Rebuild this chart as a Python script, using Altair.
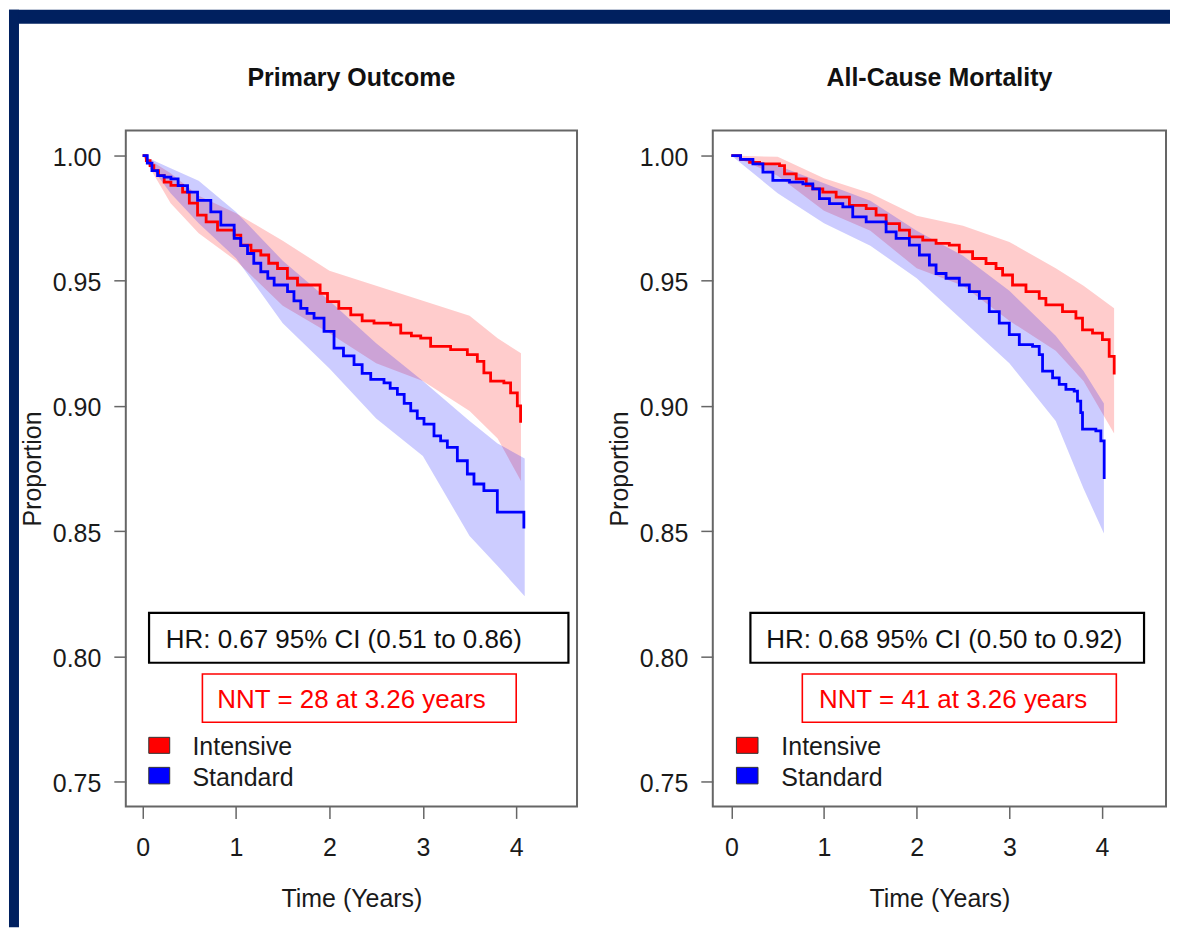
import altair as alt
import pandas as pd

# ---------------- data ----------------
X_TICKS = [0, 1, 2, 3, 4]
Y_TICKS = [0.75, 0.80, 0.85, 0.90, 0.95, 1.00]
SERIES = ["Intensive", "Standard"]

# Panel 1: Primary Outcome
P1_TITLE = "Primary Outcome"
P1_INT_T = [0, 0.04, 0.08, 0.12, 0.17, 0.231, 0.303, 0.428, 0.50, 0.588, 0.68, 0.802, 0.980, 1.051, 1.16,
            1.265, 1.35, 1.444, 1.55, 1.658, 1.90, 1.979, 2.10, 2.228, 2.35, 2.477, 2.656, 2.763, 2.877,
            2.977, 3.083, 3.297, 3.476, 3.583, 3.653, 3.725, 3.867, 3.939, 4.011, 4.046]
P1_INT_S = [1.0, 0.998, 0.996, 0.994, 0.992, 0.9894, 0.9881, 0.9854, 0.981, 0.9762, 0.9735, 0.9702, 0.9682,
            0.9642, 0.962, 0.9603, 0.957, 0.9549, 0.951, 0.9483, 0.945, 0.9417, 0.939, 0.9364, 0.934, 0.9331,
            0.9324, 0.9291, 0.928, 0.9271, 0.9238, 0.9225, 0.9205, 0.9178, 0.9132, 0.9099, 0.9092, 0.9052,
            0.9000, 0.8933]
P1_STD_T = [0, 0.05, 0.10, 0.16, 0.231, 0.303, 0.38, 0.481, 0.588, 0.730, 0.837, 0.980, 1.05, 1.123, 1.19,
            1.265, 1.34, 1.408, 1.551, 1.62, 1.693, 1.76, 1.835, 1.942, 2.049, 2.15, 2.263, 2.35, 2.442,
            2.584, 2.65, 2.727, 2.80, 2.870, 2.94, 3.012, 3.119, 3.19, 3.262, 3.369, 3.476, 3.547, 3.653,
            3.797, 4.081]
P1_STD_S = [1.0, 0.997, 0.994, 0.992, 0.9914, 0.9907, 0.988, 0.9854, 0.9821, 0.9775, 0.9722, 0.9669, 0.964,
            0.9609, 0.957, 0.9536, 0.951, 0.9483, 0.9457, 0.942, 0.9390, 0.937, 0.9351, 0.9298, 0.9231,
            0.920, 0.9165, 0.913, 0.9106, 0.9092, 0.907, 0.9046, 0.901, 0.8980, 0.895, 0.8927, 0.8880,
            0.886, 0.8834, 0.8781, 0.8728, 0.8688, 0.8662, 0.8576, 0.8510]
P1_INT_BAND_T = [0, 0.3, 0.6, 1.0, 1.5, 2.0, 2.5, 3.0, 3.5, 3.8, 4.05]
P1_INT_LO = [1.0, 0.981, 0.969, 0.958, 0.940, 0.929, 0.917, 0.910, 0.898, 0.887, 0.870]
P1_INT_HI = [1.0, 0.993, 0.984, 0.977, 0.966, 0.954, 0.948, 0.942, 0.936, 0.927, 0.921]
P1_STD_BAND_T = [0, 0.3, 0.6, 1.0, 1.5, 2.0, 2.5, 3.0, 3.5, 3.8, 4.09]
P1_STD_LO = [1.0, 0.985, 0.973, 0.959, 0.933, 0.915, 0.895, 0.880, 0.848, 0.836, 0.824]
P1_STD_HI = [1.0, 0.995, 0.990, 0.9775, 0.958, 0.942, 0.925, 0.910, 0.894, 0.885, 0.879]
P1_HR = "HR: 0.67 95% CI (0.51 to 0.86)"
P1_NNT = "NNT = 28 at 3.26 years"

# Panel 2: All-Cause Mortality
P2_TITLE = "All-Cause Mortality"
P2_INT_T = [0, 0.1, 0.197, 0.305, 0.520, 0.574, 0.700, 0.808, 0.879, 0.987, 1.131, 1.274, 1.455, 1.562,
            1.670, 1.814, 1.922, 2.065, 2.209, 2.352, 2.460, 2.603, 2.748, 2.856, 2.927, 3.034, 3.179,
            3.322, 3.394, 3.573, 3.718, 3.789, 3.897, 4.004, 4.077, 4.131]
P2_INT_S = [1.0, 0.9985, 0.9973, 0.9967, 0.9960, 0.9927, 0.9907, 0.9881, 0.9867, 0.9854, 0.9834, 0.9801,
            0.9788, 0.9762, 0.9728, 0.9702, 0.9675, 0.9662, 0.9649, 0.9642, 0.9616, 0.9589, 0.9569, 0.9549,
            0.9523, 0.9483, 0.9457, 0.9430, 0.9404, 0.9377, 0.9351, 0.9304, 0.9291, 0.9265, 0.9198, 0.9126]
P2_STD_T = [0, 0.1, 0.233, 0.341, 0.448, 0.628, 0.772, 0.879, 0.951, 1.059, 1.203, 1.310, 1.455, 1.670,
            1.778, 1.921, 2.029, 2.137, 2.209, 2.317, 2.460, 2.568, 2.676, 2.783, 2.891, 2.999, 3.107,
            3.250, 3.322, 3.358, 3.466, 3.538, 3.610, 3.699, 3.735, 3.770, 3.789, 3.933, 3.987, 4.023]
P2_STD_S = [1.0, 0.9985, 0.9967, 0.9934, 0.9901, 0.9894, 0.9887, 0.9867, 0.9828, 0.9808, 0.9795, 0.9755,
            0.9735, 0.9695, 0.9669, 0.9642, 0.9603, 0.9563, 0.9529, 0.9510, 0.9483, 0.9457, 0.9430, 0.9377,
            0.9331, 0.9285, 0.9245, 0.9238, 0.9205, 0.9139, 0.9112, 0.9086, 0.9066, 0.9059, 0.9019, 0.8973,
            0.8907, 0.8900, 0.8860, 0.8708]
P2_INT_BAND_T = [0, 0.5, 1.0, 1.5, 2.0, 2.5, 3.0, 3.5, 3.8, 4.13]
P2_INT_LO = [1.0, 0.992, 0.978, 0.970, 0.955, 0.948, 0.934, 0.922, 0.910, 0.889]
P2_INT_HI = [1.0, 0.9995, 0.991, 0.985, 0.976, 0.972, 0.9655, 0.955, 0.948, 0.939]
P2_STD_BAND_T = [0, 0.5, 1.0, 1.5, 2.0, 2.5, 3.0, 3.5, 3.8, 4.02]
P2_STD_LO = [1.0, 0.985, 0.973, 0.964, 0.951, 0.934, 0.917, 0.894, 0.867, 0.849]
P2_STD_HI = [1.0, 0.996, 0.989, 0.982, 0.970, 0.960, 0.946, 0.928, 0.914, 0.901]
P2_HR = "HR: 0.68 95% CI (0.50 to 0.92)"
P2_NNT = "NNT = 41 at 3.26 years"

# ---------------- styling / layout ----------------
FONT = "Liberation Sans"
RED = "#ff0000"
BLUE = "#0000ff"
NAVY = "#00205f"
TXT = "#1a1a1a"
Y_DOMAIN = [0.74, 1.01]
PLOT_H = 677


def const_df():
    return pd.DataFrame({"k": [0]})


def panel(title, xdom, width, int_t, int_s, std_t, std_s,
          ib_t, ib_lo, ib_hi, sb_t, sb_lo, sb_hi, hr, nnt, ann, frames):
    xs = alt.Scale(domain=xdom, nice=False, zero=False)
    ys = alt.Scale(domain=Y_DOMAIN, nice=False, zero=False)
    xax = alt.Axis(values=X_TICKS, title="Time (Years)", grid=False, domain=False,
                   tickSize=12, tickColor="#666666", tickWidth=1.5,
                   labelFontSize=25, labelFont=FONT, labelColor=TXT, labelPadding=17,
                   labelBaseline="top", labelFlush=False,
                   titleFontSize=25, titleFont=FONT, titleFontWeight="normal", titleColor=TXT,
                   titleBaseline="alphabetic", titleY=100, titleX=width / 2, titleAlign="center")
    yax = alt.Axis(values=Y_TICKS, format=".2f", title="Proportion", grid=False, domain=False,
                   tickSize=12, tickColor="#666666", tickWidth=1.5,
                   labelFontSize=25, labelFont=FONT, labelColor=TXT, labelPadding=13,
                   labelBaseline="middle", labelOffset=2, labelFlush=False,
                   titleFontSize=25, titleFont=FONT, titleFontWeight="normal", titleColor=TXT,
                   titleAngle=270, titleAlign="center", titleBaseline="alphabetic",
                   titleX=-85, titleY=PLOT_H / 2)

    def X(f):
        return alt.X(f, type="quantitative", scale=xs, axis=xax)

    def Y(f):
        return alt.Y(f, type="quantitative", scale=ys, axis=yax)

    layers = []
    # navy frame strips (decoration)
    for (a, b, c, d) in frames:
        layers.append(alt.Chart(const_df()).mark_rect(color=NAVY).encode(
            x=alt.value(a), x2=alt.value(b), y=alt.value(c), y2=alt.value(d)))

    # confidence bands
    for bt, lo, hi, col in [(ib_t, ib_lo, ib_hi, RED), (sb_t, sb_lo, sb_hi, BLUE)]:
        df = pd.DataFrame({"t": bt, "lo": lo, "hi": hi})
        layers.append(alt.Chart(df).mark_area(color=col, opacity=0.2).encode(
            x=X("t"), y=Y("lo"), y2="hi"))
    # KM curves
    for tt, ss, col in [(int_t, int_s, RED), (std_t, std_s, BLUE)]:
        df = pd.DataFrame({"t": tt, "s": ss})
        layers.append(alt.Chart(df).mark_line(color=col, strokeWidth=2.8, interpolate="step-after").encode(
            x=X("t"), y=Y("s")))

    # panel title
    tdf = pd.DataFrame({"x": [(xdom[0] + xdom[1]) / 2], "y": [ann["title_y"]], "txt": [title]})
    layers.append(alt.Chart(tdf).mark_text(font=FONT, fontSize=25, fontWeight="bold", color="#111111",
                                           align="center", baseline="alphabetic").encode(
        x=X("x"), y=Y("y"), text="txt:N"))

    # HR box
    hb = pd.DataFrame({"x": [ann["hr_x"][0]], "x2": [ann["hr_x"][1]],
                       "y": [ann["hr_y"][0]], "y2": [ann["hr_y"][1]]})
    layers.append(alt.Chart(hb).mark_rect(fill="white", stroke="#000000", strokeWidth=2.2).encode(
        x=X("x"), x2="x2", y=Y("y"), y2="y2"))
    ht = pd.DataFrame({"x": [ann["hr_tx"]], "y": [ann["hr_ty"]], "txt": [hr]})
    layers.append(alt.Chart(ht).mark_text(font=FONT, fontSize=26, color="#111111", align="left",
                                          baseline="middle").encode(x=X("x"), y=Y("y"), text="txt:N"))
    # NNT box
    nb = pd.DataFrame({"x": [ann["nnt_x"][0]], "x2": [ann["nnt_x"][1]],
                       "y": [ann["nnt_y"][0]], "y2": [ann["nnt_y"][1]]})
    layers.append(alt.Chart(nb).mark_rect(fill="white", stroke=RED, strokeWidth=1.6).encode(
        x=X("x"), x2="x2", y=Y("y"), y2="y2"))
    nt = pd.DataFrame({"x": [ann["nnt_tx"]], "y": [ann["nnt_ty"]], "txt": [nnt]})
    layers.append(alt.Chart(nt).mark_text(font=FONT, fontSize=26, color=RED, align="left",
                                          baseline="middle").encode(x=X("x"), y=Y("y"), text="txt:N"))
    # legend
    lg = pd.DataFrame({"x": [ann["sq_x"][0]] * 2, "x2": [ann["sq_x"][1]] * 2,
                       "y": [ann["sq_red"][0], ann["sq_blue"][0]],
                       "y2": [ann["sq_red"][1], ann["sq_blue"][1]],
                       "series": SERIES})
    layers.append(alt.Chart(lg).mark_rect(stroke="#333333", strokeWidth=1).encode(
        x=X("x"), x2="x2", y=Y("y"), y2="y2",
        fill=alt.Fill("series:N", scale=alt.Scale(domain=SERIES, range=[RED, BLUE]), legend=None)))
    lt = pd.DataFrame({"x": [ann["lab_x"]] * 2, "y": ann["lab_y"], "txt": SERIES})
    layers.append(alt.Chart(lt).mark_text(font=FONT, fontSize=25, color=TXT, align="left",
                                          baseline="middle").encode(x=X("x"), y=Y("y"), text="txt:N"))

    return alt.layer(*layers).properties(width=width, height=PLOT_H)


ANN1 = dict(title_y=1.0280,
            hr_x=[0.069, 4.558], hr_y=[0.7974, 0.8173], hr_tx=0.248, hr_ty=0.8066,
            nnt_x=[0.640, 3.999], nnt_y=[0.7736, 0.7929], nnt_tx=0.800, nnt_ty=0.7826,
            sq_x=[0.066, 0.290], sq_red=[0.7612, 0.7676], sq_blue=[0.7490, 0.7556],
            lab_x=0.533, lab_y=[0.7637, 0.7515])
ANN2 = dict(title_y=1.0280,
            hr_x=[0.206, 4.453], hr_y=[0.7974, 0.8173], hr_tx=0.378, hr_ty=0.8066,
            nnt_x=[0.766, 4.154], nnt_y=[0.7736, 0.7929], nnt_tx=0.945, nnt_ty=0.7826,
            sq_x=[0.055, 0.288], sq_red=[0.7612, 0.7676], sq_blue=[0.7490, 0.7556],
            lab_x=0.540, lab_y=[0.7637, 0.7515])

# panel 1 plot spans page x 125..577, panel 2 plot spans 713..1167
p1 = panel(P1_TITLE, [-0.18, 4.65], 452, P1_INT_T, P1_INT_S, P1_STD_T, P1_STD_S,
           P1_INT_BAND_T, P1_INT_LO, P1_INT_HI, P1_STD_BAND_T, P1_STD_LO, P1_STD_HI,
           P1_HR, P1_NNT, ANN1,
           frames=[(-117, 1046, -121, -107), (-117, -107, -121, 798)])
p2 = panel(P2_TITLE, [-0.2, 4.69], 454, P2_INT_T, P2_INT_S, P2_STD_T, P2_STD_S,
           P2_INT_BAND_T, P2_INT_LO, P2_INT_HI, P2_STD_BAND_T, P2_STD_LO, P2_STD_HI,
           P2_HR, P2_NNT, ANN2,
           frames=[])

chart = alt.hconcat(p1, p2, spacing=136, bounds="flush").properties(
    padding=0, background="white").configure_view(stroke="#666666", strokeWidth=2)

chart.save("out.html", embed_options={"renderer": "svg", "actions": False})
